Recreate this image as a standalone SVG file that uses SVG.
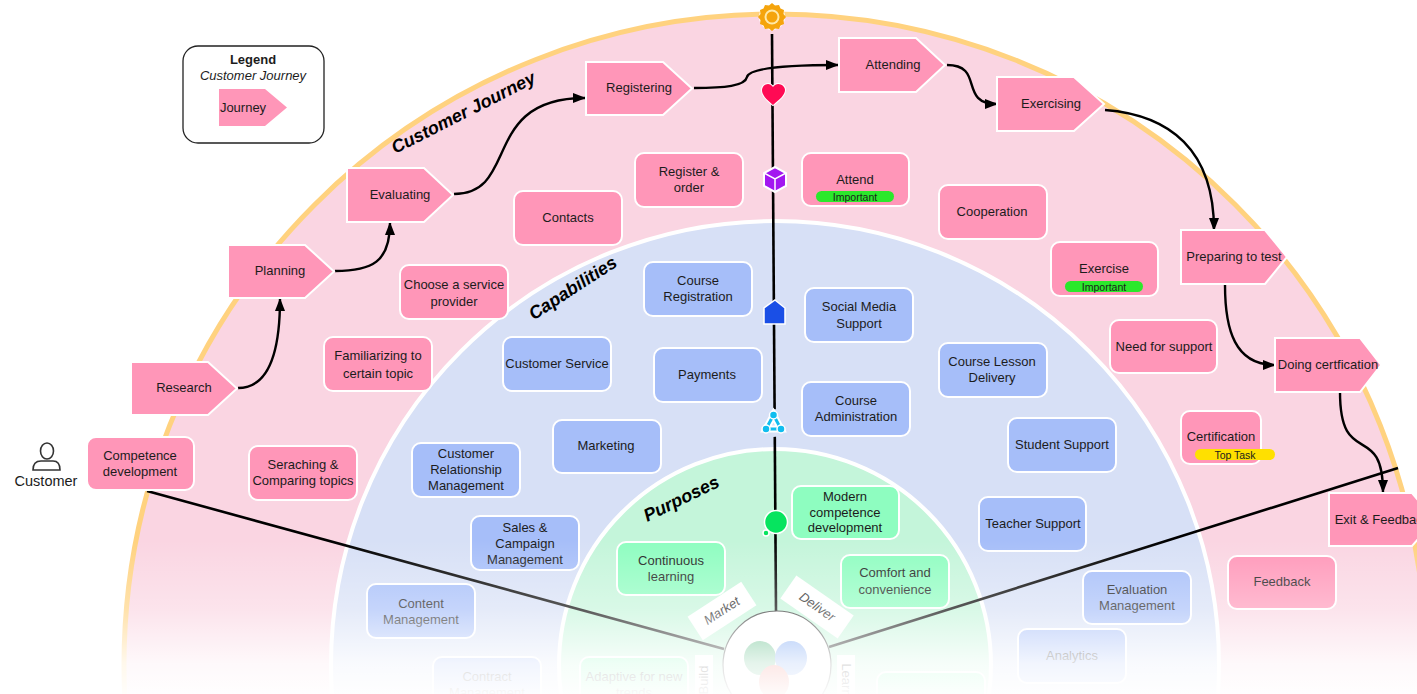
<svg xmlns="http://www.w3.org/2000/svg" width="1417" height="694" viewBox="0 0 1417 694">
<style>
text{font-family:"Liberation Sans",Arial,sans-serif;font-size:13px;fill:#1c1c1c;text-anchor:middle}
.j{fill:#FF96B8;stroke:#fff;stroke-width:2}
.p{fill:#FF96B8;stroke:#fff;stroke-width:2}
.b{fill:#A6BEF9;stroke:#fff;stroke-width:2}
.g{fill:#8EFDC0;stroke:#fff;stroke-width:2}
.arc{font-weight:bold;font-style:italic;font-size:18px;fill:#000}
.c{fill:none;stroke:#000;stroke-width:2.4}
.s{fill:none;stroke:#000;stroke-width:2.6}
.tag{font-size:10.5px}
.halo{stroke:#fff;stroke-width:2;paint-order:stroke}
</style>
<defs>
<marker id="ah" markerWidth="14" markerHeight="10" refX="12" refY="5" orient="auto" markerUnits="userSpaceOnUse"><path d="M0 0L13 5L0 10Z" fill="#000"/></marker>
<linearGradient id="fade" x1="0" y1="540" x2="0" y2="694" gradientUnits="userSpaceOnUse">
<stop offset="0" stop-color="#fff" stop-opacity="0"/>
<stop offset=".45" stop-color="#fff" stop-opacity=".35"/>
<stop offset=".8" stop-color="#fff" stop-opacity=".85"/>
<stop offset="1" stop-color="#fff" stop-opacity=".97"/>
</linearGradient>
</defs>
<rect width="1417" height="694" fill="#fff"/>
<g id="rings">
<circle cx="775" cy="665" r="651" fill="#FAD5E2" stroke="#FFD27F" stroke-width="5"/>
<circle cx="775" cy="665" r="444" fill="#D7E0F6" stroke="#fff" stroke-width="4"/>
<circle cx="775" cy="665" r="216" fill="#C4F5DA" stroke="#fff" stroke-width="4"/>
</g>
<text class="arc" transform="translate(466 118) rotate(-27)">Customer Journey</text>
<text class="arc" transform="translate(576 293) rotate(-33)">Capabilities</text>
<text class="arc" transform="translate(684 504) rotate(-26)">Purposes</text>

<g id="connectors">
<path class="s" d="M147 491L724 649"/>
<path class="s" d="M1398 468L829 647"/>
<path class="s" d="M772 34L776 612"/>
<path class="c" marker-end="url(#ah)" d="M238 388C270 388 280 350 280 299"/>
<path class="c" marker-end="url(#ah)" d="M335 271C372 271 390 262 390 223"/>
<path class="c" marker-end="url(#ah)" d="M454 194C520 194 480 98 585 98"/>
<path class="c" marker-end="url(#ah)" d="M694 88C725 88 745 86 747 77C749 68 785 65 838 65"/>
<path class="c" marker-end="url(#ah)" d="M947 65C985 65 958 104 997 104"/>
<path class="c" marker-end="url(#ah)" d="M1105 110C1170 115 1214 150 1214 230"/>
<path class="c" marker-end="url(#ah)" d="M1225 285C1225 330 1235 365 1275 365"/>
<path class="c" marker-end="url(#ah)" d="M1340 392C1340 470 1383 420 1383 492"/>
</g>

<g id="icons">
<g id="icon-sun"><circle cx="772" cy="17" r="13" fill="#fff"/><path d="M772 6l3 2.500 4-.5 1.500 3.500 3.500 1.500-.5 4 2.500 3-2.500 3 .5 4-3.500 1.500-1.500 3.500-4-.5-3 2.500-3-2.500-4 .5-1.500-3.500-3.500-1.500.5-4-2.500-3 2.500-3-.5-4 3.500-1.500 1.500-3.500 4 .5z" transform="translate(0 -3)" fill="#F5A40C"/><circle cx="772" cy="17" r="7.500" fill="#FFE9A8"/><circle cx="772" cy="17" r="5.500" fill="#F5A40C"/></g>
<path id="icon-heart" class="halo" d="M773 105C766 99 762 95 762 90C762 85 769 81 773 87C777 81 785 85 785 90C785 95 780 99 773 105Z" fill="#FF0A54"/>
<g id="icon-cube"><path d="M775 167L786 173V186L775 192L764 186V173Z" fill="#A316F0" stroke="#fff" stroke-width="2"/><path d="M764 173L775 179L786 173M775 179V192" fill="none" stroke="#fff" stroke-width="1.500"/></g>
<path id="icon-house" d="M775 300L785 308V324H764V308Z" fill="#1A4FE6" stroke="#fff" stroke-width="1.500"/>
<g id="icon-triad"><circle cx="773" cy="423" r="14" fill="#D7E0F6"/><path d="M773.500 415L766 429H781Z" fill="none" stroke="#fff" stroke-width="7"/><path d="M773.500 415L766 429H781Z" fill="none" stroke="#10BDEF" stroke-width="3"/><g fill="#10BDEF" stroke="#fff" stroke-width="1.500"><circle cx="773.500" cy="415" r="4"/><circle cx="766" cy="429" r="4"/><circle cx="781" cy="429" r="4"/></g></g>
<g id="icon-circle" fill="#06E45F" stroke="#fff" stroke-width="1.500"><circle cx="776" cy="522" r="11.500"/><circle cx="766" cy="533" r="3"/></g>
</g>

<g id="legend">
<rect x="183" y="46" width="141" height="97" rx="15" fill="#fff" stroke="#222" stroke-width="1.300"/>
<text x="253" y="64" style="font-weight:bold">Legend</text>
<text x="253" y="80" style="font-style:italic">Customer Journey</text>
<path d="M219 89H265L287 107.500L265 126H219Z" fill="#FF96B8"/>
<text x="243" y="112">Journey</text>
</g>

<g id="customer">
<g fill="none" stroke="#333" stroke-width="1.600"><ellipse cx="47" cy="451" rx="6.500" ry="8"/><path d="M33 470C33 464 36 461 41 461H53C58 461 60 464 60 470Z"/></g>
<text x="46" y="486" style="font-size:14.500px">Customer</text>
</g>

<g id="j-research"><path class="j" d="M131 362H208L237 388.500L208 415H131Z"/><text x="184" y="392">Research</text></g>
<g id="j-planning"><path class="j" d="M228 245H305L334 271.500L305 298H228Z"/><text x="280" y="275">Planning</text></g>
<g id="j-evaluating"><path class="j" d="M347 168H424L453 195L424 222H347Z"/><text x="400" y="199">Evaluating</text></g>
<g id="j-registering"><path class="j" d="M586 62H663L692 88.500L663 115H586Z"/><text x="639" y="92">Registering</text></g>
<g id="j-attending"><path class="j" d="M839 38H916L945 65L916 92H839Z"/><text x="893" y="69">Attending</text></g>
<g id="j-exercising"><path class="j" d="M997 77H1074L1104 104L1074 131H997Z"/><text x="1051" y="108">Exercising</text></g>
<g id="j-preparing"><path class="j" d="M1181 230H1265L1287 257L1265 284H1181Z"/><text x="1234" y="261">Preparing to test</text></g>
<g id="j-doing"><path class="j" d="M1275 338H1360L1381 365L1360 392H1275Z"/><text x="1328" y="369">Doing certfication</text></g>
<g id="j-exit"><path class="j" d="M1329 493H1412L1435 520L1412 546H1329Z"/><text x="1382" y="524">Exit &amp; Feedback</text></g>

<g id="n-competence"><rect class="p" x="87" y="437" width="107" height="53" rx="9"/><text x="140" y="460">Competence</text><text x="140" y="476">development</text></g>
<g id="n-searching"><rect class="p" x="249" y="446" width="108" height="54" rx="9"/><text x="303" y="469">Seraching &amp;</text><text x="303" y="485">Comparing topics</text></g>
<g id="n-familiarizing"><rect class="p" x="324" y="337" width="108" height="54" rx="9"/><text x="378" y="360">Familiarizing to</text><text x="378" y="378">certain topic</text></g>
<g id="n-choose"><rect class="p" x="400" y="265" width="108" height="54" rx="9"/><text x="454" y="289">Choose a service</text><text x="454" y="306">provider</text></g>
<g id="n-contacts"><rect class="p" x="514" y="191" width="108" height="54" rx="9"/><text x="568" y="222">Contacts</text></g>
<g id="n-register"><rect class="p" x="635" y="153" width="108" height="54" rx="9"/><text x="689" y="176">Register &amp;</text><text x="689" y="192">order</text></g>
<g id="n-attend"><rect class="p" x="802" y="153" width="107" height="53" rx="9"/><text x="855" y="184">Attend</text><rect x="816" y="191" width="78" height="11" rx="5.500" fill="#2BE82B"/><text class="tag" x="855" y="201">Important</text></g>
<g id="n-cooperation"><rect class="p" x="939" y="185" width="108" height="54" rx="9"/><text x="992" y="216">Cooperation</text></g>
<g id="n-exercise"><rect class="p" x="1051" y="242" width="107" height="54" rx="9"/><text x="1104" y="273">Exercise</text><rect x="1065" y="281" width="78" height="11" rx="5.500" fill="#2BE82B"/><text class="tag" x="1104" y="291">Important</text></g>
<g id="n-need"><rect class="p" x="1110" y="320" width="107" height="53" rx="9"/><text x="1164" y="351">Need for support</text></g>
<g id="n-certification"><rect class="p" x="1181" y="411" width="80" height="53" rx="9"/><text x="1234" y="441" style="text-anchor:middle" dx="-13">Certification</text><rect x="1195" y="449" width="80" height="11" rx="5.500" fill="#FFE000"/><text class="tag" x="1235" y="459">Top Task</text></g>
<g id="n-feedback"><rect class="p" x="1228" y="556" width="108" height="53" rx="9"/><text x="1282" y="586">Feedback</text></g>

<g id="n-courseReg"><rect class="b" x="644" y="262" width="108" height="54" rx="9"/><text x="698" y="285">Course</text><text x="698" y="301">Registration</text></g>
<g id="n-social"><rect class="b" x="805" y="288" width="108" height="54" rx="9"/><text x="859" y="311">Social Media</text><text x="859" y="328">Support</text></g>
<g id="n-service"><rect class="b" x="503" y="337" width="108" height="54" rx="9"/><text x="557" y="368">Customer Service</text></g>
<g id="n-payments"><rect class="b" x="654" y="348" width="108" height="54" rx="9"/><text x="707" y="379">Payments</text></g>
<g id="n-lesson"><rect class="b" x="939" y="343" width="108" height="54" rx="9"/><text x="992" y="366">Course Lesson</text><text x="992" y="382">Delivery</text></g>
<g id="n-admin"><rect class="b" x="802" y="382" width="108" height="54" rx="9"/><text x="856" y="405">Course</text><text x="856" y="421">Administration</text></g>
<g id="n-student"><rect class="b" x="1008" y="418" width="108" height="54" rx="9"/><text x="1062" y="449">Student Support</text></g>
<g id="n-marketing"><rect class="b" x="553" y="420" width="108" height="53" rx="9"/><text x="606" y="450">Marketing</text></g>
<g id="n-crm"><rect class="b" x="412" y="443" width="108" height="54" rx="9"/><text x="466" y="458">Customer</text><text x="466" y="474">Relationship</text><text x="466" y="490">Management</text></g>
<g id="n-teacher"><rect class="b" x="979" y="497" width="107" height="54" rx="9"/><text x="1033" y="528">Teacher Support</text></g>
<g id="n-sales"><rect class="b" x="471" y="516" width="108" height="54" rx="9"/><text x="525" y="532">Sales &amp;</text><text x="525" y="548">Campaign</text><text x="525" y="564">Management</text></g>
<g id="n-evaluation"><rect class="b" x="1083" y="571" width="108" height="53" rx="9"/><text x="1137" y="594">Evaluation</text><text x="1137" y="610">Management</text></g>
<g id="n-content"><rect class="b" x="367" y="584" width="108" height="54" rx="9"/><text x="421" y="608">Content</text><text x="421" y="624">Management</text></g>
<g id="n-analytics"><rect class="b" x="1018" y="629" width="108" height="54" rx="9"/><text x="1072" y="660">Analytics</text></g>
<g id="n-contract"><rect class="b" x="433" y="657" width="108" height="54" rx="9"/><text x="487" y="681">Contract</text><text x="487" y="697">Management</text></g>

<g id="n-modern"><rect class="g" x="792" y="486" width="107" height="53" rx="9"/><text x="845" y="501">Modern</text><text x="845" y="517">competence</text><text x="845" y="532">development</text></g>
<g id="n-continuous"><rect class="g" x="617" y="542" width="108" height="53" rx="9"/><text x="671" y="565">Continuous</text><text x="671" y="581">learning</text></g>
<g id="n-comfort"><rect class="g" x="841" y="555" width="108" height="53" rx="9"/><text x="895" y="577">Comfort and</text><text x="895" y="594">convenience</text></g>
<g id="n-adaptive"><rect class="g" x="580" y="657" width="108" height="54" rx="9"/><text x="634" y="681">Adaptive for new</text><text x="634" y="697">trends</text></g>
<g id="n-right"><rect class="g" x="877" y="672" width="108" height="54" rx="9"/></g>

<g id="hub">
<g transform="translate(722 611) rotate(-33)"><rect x="-32" y="-14" width="64" height="28" fill="#fff"/><text y="4" style="font-style:italic">Market</text></g>
<g transform="translate(817 607) rotate(35)"><rect x="-35" y="-14" width="70" height="28" fill="#fff"/><text y="4" style="font-style:italic">Deliver</text></g>
<g transform="translate(704 680)"><rect x="-9" y="-25" width="18" height="50" fill="#fff"/><text transform="rotate(-90)" y="4">Build</text></g>
<g transform="translate(846 680)"><rect x="-9" y="-25" width="18" height="50" fill="#fff"/><text transform="rotate(90)" y="4">Learn</text></g>
<circle cx="777" cy="665" r="54" fill="#fff" stroke="#333" stroke-width="1.200"/>
<ellipse cx="760" cy="658" rx="16" ry="17" fill="#54B87F"/>
<ellipse cx="791" cy="658" rx="16" ry="17" fill="#6F9EF2"/>
<ellipse cx="774" cy="682" rx="15" ry="17" fill="#EE6A5F"/>
</g>

<rect id="fade-overlay" y="540" width="1417" height="154" fill="url(#fade)"/>
</svg>
